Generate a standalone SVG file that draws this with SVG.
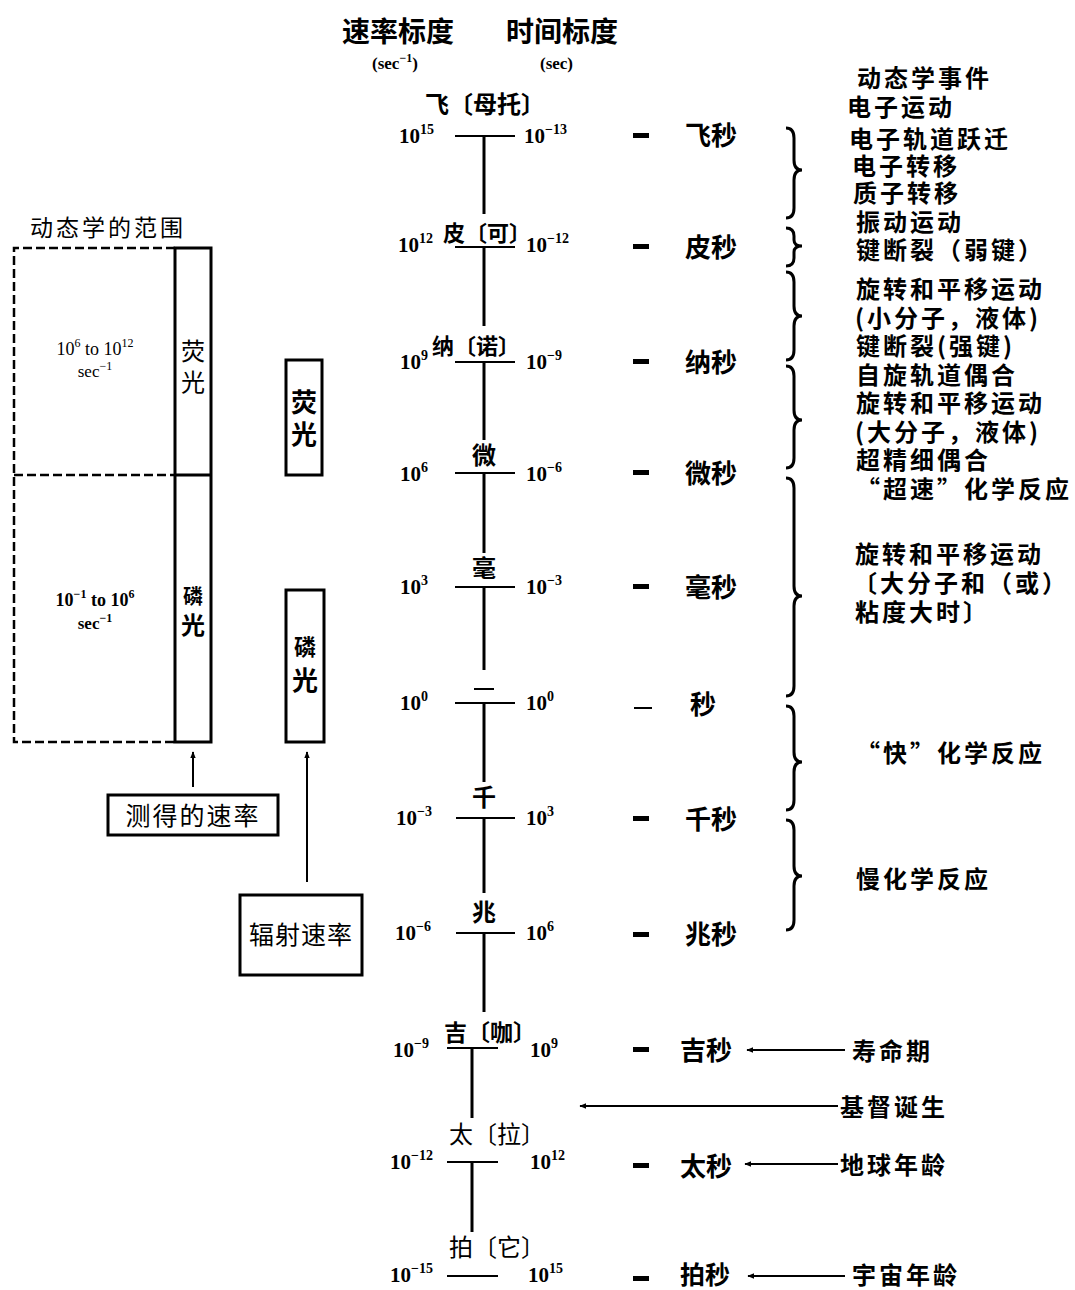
<svg xmlns="http://www.w3.org/2000/svg" width="1075" height="1290" viewBox="0 0 1075 1290">
<defs>
<marker id="ah" viewBox="0 0 10 10" refX="9" refY="5" markerWidth="7" markerHeight="7" orient="auto-start-reverse" markerUnits="userSpaceOnUse">
<path d="M0,1 L10,5 L0,9 z" fill="#000"/>
</marker>
<style>
.cj{font-family:"Noto Sans CJK SC","Noto Sans",sans-serif;fill:#000}
.b{font-weight:700}
.ev{font-family:"Noto Sans CJK SC",sans-serif;font-weight:700;font-size:24px;letter-spacing:3px}
.num{font-family:"Liberation Serif",serif;font-weight:700;font-size:21px}
.sup{font-size:14px}
.ln{stroke:#000;stroke-width:3;fill:none}
.thin{stroke:#000;stroke-width:2;fill:none}
.dash{stroke:#000;stroke-width:2.5;stroke-dasharray:9,4;fill:none}
.br{stroke:#000;stroke-width:3;fill:none}
</style>
</defs>
<rect width="1075" height="1290" fill="#fff"/>

<g id="header">
<text class="cj b" x="342" y="42" font-size="28">速率标度</text>
<text class="cj b" x="506" y="42" font-size="28">时间标度</text>
<text x="372" y="69" font-family="Liberation Serif, serif" font-weight="700" font-size="17">(sec<tspan font-size="12" dy="-7">−1</tspan><tspan dy="7">)</tspan></text>
<text x="540" y="69" font-family="Liberation Serif, serif" font-weight="700" font-size="17">(sec)</text>
</g>

<g id="scale-axis">
<line class="ln" x1="484" y1="136" x2="484" y2="214"/>
<line class="ln" x1="484" y1="247" x2="484" y2="326"/>
<line class="ln" x1="484" y1="362" x2="484" y2="440"/>
<line class="ln" x1="484" y1="473" x2="484" y2="553"/>
<line class="ln" x1="484" y1="587" x2="484" y2="670"/>
<line class="ln" x1="484" y1="703" x2="484" y2="782"/>
<line class="ln" x1="484" y1="818" x2="484" y2="893"/>
<line class="ln" x1="484" y1="933" x2="484" y2="1012"/>
<line class="ln" x1="472" y1="1048" x2="472" y2="1118"/>
<line class="ln" x1="472" y1="1162" x2="472" y2="1232"/>
</g>

<g id="row-femto">
<text class="cj b" x="485" y="113" font-size="24" text-anchor="middle">飞〔母托〕</text>
<line class="thin" x1="455" y1="136" x2="515" y2="136"/>
<text class="num" x="399" y="143">10<tspan class="sup" dy="-9">15</tspan></text>
<text class="num" x="524" y="143">10<tspan class="sup" dy="-9">−13</tspan></text>
<rect x="633" y="133" width="16" height="5"/>
<text class="cj b" x="685" y="145" font-size="26">飞秒</text>
</g>
<g id="row-pico">
<text class="cj b" x="487" y="241" font-size="22" text-anchor="middle">皮〔可〕</text>
<line class="thin" x1="455" y1="247" x2="515" y2="247"/>
<text class="num" x="398" y="252">10<tspan class="sup" dy="-9">12</tspan></text>
<text class="num" x="526" y="252">10<tspan class="sup" dy="-9">−12</tspan></text>
<rect x="633" y="244" width="16" height="5"/>
<text class="cj b" x="685" y="257" font-size="26">皮秒</text>
</g>
<g id="row-nano">
<text class="cj b" x="476" y="354" font-size="22" text-anchor="middle">纳〔诺〕</text>
<line class="thin" x1="455" y1="362" x2="515" y2="362"/>
<text class="num" x="400" y="369">10<tspan class="sup" dy="-9">9</tspan></text>
<text class="num" x="526" y="369">10<tspan class="sup" dy="-9">−9</tspan></text>
<rect x="633" y="359" width="16" height="5"/>
<text class="cj b" x="685" y="372" font-size="26">纳秒</text>
</g>
<g id="row-micro">
<text class="cj b" x="484" y="464" font-size="24" text-anchor="middle">微</text>
<line class="thin" x1="455" y1="473" x2="515" y2="473"/>
<text class="num" x="400" y="481">10<tspan class="sup" dy="-9">6</tspan></text>
<text class="num" x="526" y="481">10<tspan class="sup" dy="-9">−6</tspan></text>
<rect x="633" y="470" width="16" height="5"/>
<text class="cj b" x="685" y="483" font-size="26">微秒</text>
</g>
<g id="row-milli">
<text class="cj b" x="484" y="577" font-size="24" text-anchor="middle">毫</text>
<line class="thin" x1="455" y1="587" x2="515" y2="587"/>
<text class="num" x="400" y="594">10<tspan class="sup" dy="-9">3</tspan></text>
<text class="num" x="526" y="594">10<tspan class="sup" dy="-9">−3</tspan></text>
<rect x="633" y="584" width="16" height="5"/>
<text class="cj b" x="685" y="597" font-size="26">毫秒</text>
</g>
<g id="row-second">
<line class="thin" x1="474" y1="689" x2="494" y2="689"/>
<line class="thin" x1="455" y1="703" x2="515" y2="703"/>
<text class="num" x="400" y="710">10<tspan class="sup" dy="-9">0</tspan></text>
<text class="num" x="526" y="710">10<tspan class="sup" dy="-9">0</tspan></text>
<line class="thin" x1="634" y1="708" x2="652" y2="708"/>
<text class="cj b" x="690" y="714" font-size="26">秒</text>
</g>
<g id="row-kilo">
<text class="cj b" x="484" y="806" font-size="24" text-anchor="middle">千</text>
<line class="thin" x1="456" y1="818" x2="515" y2="818"/>
<text class="num" x="396" y="825">10<tspan class="sup" dy="-9">−3</tspan></text>
<text class="num" x="526" y="825">10<tspan class="sup" dy="-9">3</tspan></text>
<rect x="633" y="816" width="16" height="5"/>
<text class="cj b" x="685" y="829" font-size="26">千秒</text>
</g>
<g id="row-mega">
<text class="cj b" x="484" y="921" font-size="24" text-anchor="middle">兆</text>
<line class="thin" x1="456" y1="933" x2="515" y2="933"/>
<text class="num" x="395" y="940">10<tspan class="sup" dy="-9">−6</tspan></text>
<text class="num" x="526" y="940">10<tspan class="sup" dy="-9">6</tspan></text>
<rect x="633" y="932" width="16" height="5"/>
<text class="cj b" x="685" y="944" font-size="26">兆秒</text>
</g>
<g id="row-giga">
<text class="cj b" x="490" y="1041" font-size="23" text-anchor="middle">吉〔咖〕</text>
<line class="thin" x1="447" y1="1048" x2="498" y2="1048"/>
<text class="num" x="393" y="1057">10<tspan class="sup" dy="-9">−9</tspan></text>
<text class="num" x="530" y="1057">10<tspan class="sup" dy="-9">9</tspan></text>
<rect x="633" y="1047" width="16" height="5"/>
<text class="cj b" x="680" y="1060" font-size="26">吉秒</text>
</g>
<g id="row-tera">
<text class="cj" x="497" y="1143" font-size="24" text-anchor="middle">太〔拉〕</text>
<line class="thin" x1="447" y1="1162" x2="498" y2="1162"/>
<text class="num" x="390" y="1169">10<tspan class="sup" dy="-9">−12</tspan></text>
<text class="num" x="530" y="1169">10<tspan class="sup" dy="-9">12</tspan></text>
<rect x="633" y="1163" width="16" height="5"/>
<text class="cj b" x="680" y="1176" font-size="26">太秒</text>
</g>
<g id="row-peta">
<text class="cj" x="497" y="1256" font-size="24" text-anchor="middle">拍〔它〕</text>
<line class="thin" x1="447" y1="1276" x2="498" y2="1276"/>
<text class="num" x="390" y="1282">10<tspan class="sup" dy="-9">−15</tspan></text>
<text class="num" x="528" y="1282">10<tspan class="sup" dy="-9">15</tspan></text>
<rect x="633" y="1276" width="16" height="5"/>
<text class="cj b" x="680" y="1284" font-size="25">拍秒</text>
</g>

<g id="braces">
<path class="br" d="M786,128 Q794,128 794,138 L794,160 Q794,170 802,170 Q794,170 794,180 L794,208 Q794,218 786,218"/>
<path class="br" d="M786,228 Q794,228 794,236 L794,240 Q794,246 802,246 Q794,246 794,252 L794,258 Q794,266 786,266"/>
<path class="br" d="M786,272 Q794,272 794,282 L794,306 Q794,316 802,316 Q794,316 794,326 L794,350 Q794,360 786,360"/>
<path class="br" d="M786,366 Q794,366 794,376 L794,410 Q794,420 802,420 Q794,420 794,430 L794,458 Q794,468 786,468"/>
<path class="br" d="M786,478 Q794,478 794,488 L794,586 Q794,596 802,596 Q794,596 794,606 L794,686 Q794,696 786,696"/>
<path class="br" d="M786,706 Q794,706 794,716 L794,752 Q794,762 802,762 Q794,762 794,772 L794,800 Q794,810 786,810"/>
<path class="br" d="M786,820 Q794,820 794,830 L794,866 Q794,876 802,876 Q794,876 794,886 L794,920 Q794,930 786,930"/>
</g>

<g id="events">
<text class="ev" x="857" y="87">动态学事件</text>
<text class="ev" x="847" y="116">电子运动</text>
<text class="ev" x="849" y="148">电子轨道跃迁</text>
<text class="ev" x="852" y="175">电子转移</text>
<text class="ev" x="853" y="202">质子转移</text>
<text class="ev" x="856" y="231">振动运动</text>
<text class="ev" x="856" y="259">键断裂（弱键）</text>
<text class="ev" x="856" y="298">旋转和平移运动</text>
<text class="ev" x="855" y="327">(小分子，液体)</text>
<text class="ev" x="856" y="355">键断裂(强键)</text>
<text class="ev" x="856" y="384">自旋轨道偶合</text>
<text class="ev" x="856" y="412">旋转和平移运动</text>
<text class="ev" x="855" y="441">(大分子，液体)</text>
<text class="ev" x="856" y="469">超精细偶合</text>
<text class="ev" x="856" y="498" letter-spacing="1">“超速”化学反应</text>
<text class="ev" x="855" y="563">旋转和平移运动</text>
<text class="ev" x="853" y="592" letter-spacing="1">〔大分子和（或）</text>
<text class="ev" x="855" y="621">粘度大时〕</text>
<text class="ev" x="856" y="762">“快”化学反应</text>
<text class="ev" x="856" y="888">慢化学反应</text>
<text class="ev" x="852" y="1060">寿命期</text>
<text class="ev" x="840" y="1116">基督诞生</text>
<text class="ev" x="840" y="1174">地球年龄</text>
<text class="ev" x="852" y="1284">宇宙年龄</text>
</g>

<g id="connectors">
<line class="thin" x1="845" y1="1050" x2="747" y2="1050" marker-end="url(#ah)"/>
<line class="thin" x1="838" y1="1106" x2="580" y2="1106" marker-end="url(#ah)"/>
<line class="thin" x1="838" y1="1164" x2="745" y2="1164" marker-end="url(#ah)"/>
<line class="thin" x1="845" y1="1276" x2="748" y2="1276" marker-end="url(#ah)"/>
<line class="thin" x1="193" y1="787" x2="193" y2="752" marker-end="url(#ah)"/>
<line class="thin" x1="307" y1="882" x2="307" y2="752" marker-end="url(#ah)"/>
</g>

<g id="kinetics-range">
<text class="cj" x="30" y="236" font-size="23" letter-spacing="3">动态学的范围</text>
<path class="dash" d="M175,248 L14,248 L14,742 L175,742"/>
<line class="dash" x1="14" y1="475" x2="175" y2="475"/>
<rect class="ln" x="175" y="248" width="36" height="494" stroke-width="2.5"/>
<line class="ln" x1="175" y1="475" x2="211" y2="475" stroke-width="2.5"/>
<text x="95" y="355" font-family="Liberation Serif, serif" font-size="18" text-anchor="middle">10<tspan font-size="12" dy="-8">6</tspan><tspan dy="8"> to 10</tspan><tspan font-size="12" dy="-8">12</tspan></text>
<text x="95" y="377" font-family="Liberation Serif, serif" font-size="17" text-anchor="middle">sec<tspan font-size="12" dy="-7">−1</tspan></text>
<text class="cj" x="193" y="360" font-size="24" text-anchor="middle">荧</text>
<text class="cj" x="193" y="391" font-size="24" text-anchor="middle">光</text>
<text x="95" y="606" font-family="Liberation Serif, serif" font-weight="700" font-size="18" text-anchor="middle">10<tspan font-size="12" dy="-8">−1</tspan><tspan dy="8"> to 10</tspan><tspan font-size="12" dy="-8">6</tspan></text>
<text x="95" y="629" font-family="Liberation Serif, serif" font-weight="700" font-size="17" text-anchor="middle">sec<tspan font-size="12" dy="-7">−1</tspan></text>
<text class="cj b" x="193" y="604" font-size="20" text-anchor="middle">磷</text>
<text class="cj b" x="193" y="634" font-size="24" text-anchor="middle">光</text>
</g>

<g id="fluorescence-box">
<rect class="ln" x="286" y="360" width="36" height="115" stroke-width="2.5"/>
<text class="cj b" x="304" y="412" font-size="26" text-anchor="middle">荧</text>
<text class="cj b" x="304" y="444" font-size="26" text-anchor="middle">光</text>
</g>
<g id="phosphorescence-box">
<rect class="ln" x="286" y="590" width="38" height="152" stroke-width="2.5"/>
<text class="cj b" x="305" y="655" font-size="22" text-anchor="middle">磷</text>
<text class="cj b" x="305" y="690" font-size="26" text-anchor="middle">光</text>
</g>
<g id="measured-rate">
<rect class="ln" x="108" y="795" width="170" height="40" stroke-width="2.5"/>
<text class="cj" x="193" y="825" font-size="25" text-anchor="middle" letter-spacing="2">测得的速率</text>
</g>
<g id="radiative-rate">
<rect class="ln" x="240" y="895" width="122" height="80" stroke-width="2.5"/>
<text class="cj" x="301" y="944" font-size="25" text-anchor="middle" letter-spacing="1">辐射速率</text>
</g>
</svg>
